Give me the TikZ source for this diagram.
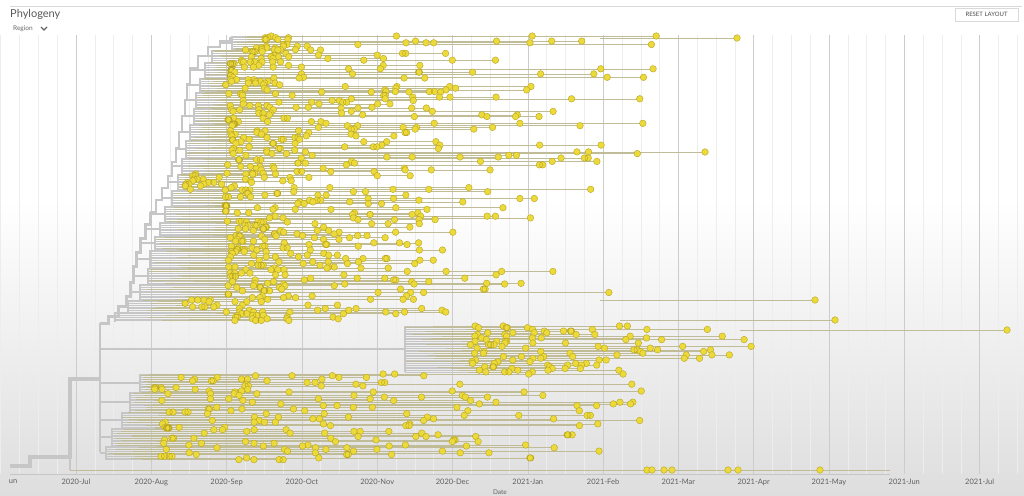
\documentclass[tikz,border=0pt]{standalone}
\usepackage{fontspec}
\setmainfont{Lato}
\usetikzlibrary{calc,positioning}
\definecolor{tipyel}{RGB}{236,218,58}
\definecolor{tipedge}{RGB}{184,164,34}
\definecolor{brgray}{RGB}{198,198,198}
\definecolor{tipline}{RGB}{192,188,152}
\definecolor{txtgray}{RGB}{95,95,95}
% clades: top y / bottom y / backbone x / clade node x / first tips x / last tip x / skew
\newcommand{\cladelist}{36/50/220/232/255/690/1.5, 50/62/198/212/240/672/1.5, 62/78/190/205/230/675/1.5,
  78/92/187/200/225/672/1.5, 92/108/185/196/225/670/1.5, 108/124/182/194/228/660/1.5,
  124/140/179/190/230/650/1.5, 140/158/176/186/232/640/1.5, 158/174/172/182/225/640/1.5,
  174/190/168/178/185/600/1.3, 190/206/162/172/225/610/1.5, 206/222/150/165/225/560/1.4,
  222/236/145/160/230/500/1.2, 236/250/140/155/230/440/1.0, 250/268/136/150/225/445/1.0,
  268/284/133/148/230/565/1.4, 284/300/130/140/228/620/1.5, 300/312/118/128/185/700/1.6,
  312/322/108/115/230/720/1.6, 326/372/100/405/470/755/0.7, 374/392/100/140/150/690/1.0,
  392/412/100/130/155/650/0.9, 412/428/100/122/160/640/0.9, 428/446/100/112/160/610/0.9,
  446/460/100/106/160/600/0.9}
\newcommand{\treepass}[1]{%
  \pgfmathsetseed{11}%
  \foreach \yt/\yb/\xbk/\xn/\xa/\xb/\sk in \cladelist {%
    \pgfmathsetmacro{\ym}{(\yt+\yb)/2}%
    \ifnum#1=0
      \draw[br] (\xbk,\ym) -- (\xn,\ym);
      \draw[br] (\xn,\yt) -- (\xn,\yb);
    \fi
    \pgfmathtruncatemacro{\nr}{(\yb-\yt)/1.7}%
    \foreach \k in {0,...,\nr} {%
      \pgfmathsetmacro{\yy}{\yt+1.7*\k}%
      \pgfmathsetmacro{\xs}{\xn+rnd*(\xa-\xn)}%
      \pgfmathsetmacro{\xt}{\xa+(\xb-\xa)*pow(rnd,\sk)}%
      \pgfmathsetmacro{\xea}{\xa+(\xt-\xa)*rnd}%
      \pgfmathsetmacro{\xeb}{\xa+(\xt-\xa)*rnd}%
      \pgfmathsetmacro{\xec}{\xa+(\xt-\xa)*rnd}%
      \ifnum#1=0
        \draw[twig] (\xn,\yy) -- (\xs,\yy);
        \draw[tipln] (\xs,\yy) -- (\xt,\yy);
      \else
        \filldraw[tipdot] (\xt,\yy) circle (3.3) (\xea,\yy) circle (3.3)
          (\xeb,\yy) circle (3.3) (\xec,\yy) circle (3.3);
      \fi
    }%
  }%
}
\begin{document}
\begin{tikzpicture}[x=1pt,y=-1pt,
  br/.style={draw=brgray,line width=1.4pt},
  trunk/.style={draw=brgray,line width=4.5pt},
  twig/.style={draw=brgray,line width=0.6pt},
  tipln/.style={draw=tipline,line width=0.6pt},
  tipdot/.style={fill=tipyel,draw=tipedge,line width=0.4pt},
  mon/.style={font=\fontsize{7.5}{8}\selectfont,text=txtgray}]
\useasboundingbox (0,0) rectangle (1024,495);
% background and grid
\fill[white] (0,0) rectangle (1024,200);
\shade[top color=white,bottom color=black!13] (0,200) rectangle (1024,495);
\foreach \k in {0,...,55}
  \draw[black!7,line width=0.5pt] ({0.7+18.825*\k},35) -- ({0.7+18.825*\k},474);
\foreach \k in {1,...,13}
  \draw[black!20,line width=0.6pt] ({0.7+75.3*\k},35) -- ({0.7+75.3*\k},474);

% header
\draw[black!15,line width=0.6pt] (10,6) -- (1022,6);
\node[anchor=west,font=\fontsize{11}{12}\selectfont,text=black!65,inner sep=0] (title) at (10,14) {Phylogeny};
\node[anchor=west,font=\fontsize{6.5}{7}\selectfont,text=black!60,inner sep=0] (region) at (13,28.5) {Region};
\draw[black!60,line width=1.2pt] (41,27) -- (44,30) -- (47,27);
\node[draw=black!15,line width=0.5pt,font=\fontsize{6}{7}\selectfont,text=black!70,
  minimum height=13pt,minimum width=63pt,inner sep=0] (reset) at (986.5,14.5) {RESET LAYOUT};

% trunk
\draw[trunk] (10,466) -- (30,466) -- (30,457) -- (70,457) -- (70,379) -- (100,379);
\draw[br,line width=2.6pt] (100,452) -- (100,323);
\draw[br,line width=3pt] (100,323) -| (108,316) -| (118,306) -| (126,296) -| (130,282)
  -| (133,266) -| (136,252) -| (140,238) -| (145,224) -| (150,212);
\draw[br,line width=2.2pt] (150,212) -| (156,200)
  -| (162,188) -| (168,176) -| (172,162) -| (176,148) -| (179,132) -| (182,116)
  -| (185,100) -| (187,84) -| (190,68) -| (198,56) -| (208,47) -| (220,41) -| (230,37);
\draw[br] (70,457) -- (70,470);
\draw[tipln] (70,470) -- (890,470);
\draw[twig] (10,474) -- (890,474);

% branches, then tips
\treepass{0}
\draw[tipln] (600,38) -- (737,38);
\draw[tipln] (560,152) -- (705,152);
\draw[tipln] (600,300) -- (815,300);
\draw[tipln] (620,320) -- (835,320);
\draw[tipln] (740,330) -- (1007,330);
\treepass{1}
\foreach \x/\y in {737/38, 705/152, 815/300, 835/320, 1007/330, 647/470, 652/470,
  664/470, 672/470, 728/470, 738/470, 820/470}
  \filldraw[tipdot] (\x,\y) circle (3.3);

% axis
\node[mon] (m0) at (13,482) {un};
\foreach \lab [count=\k] in {2020-Jul,2020-Aug,2020-Sep,2020-Oct,2020-Nov,2020-Dec,
  2021-Jan,2021-Feb,2021-Mar,2021-Apr,2021-May,2021-Jun,2021-Jul}
  \node[mon] (m\k) at ({0.7+75.3*\k},482) {\lab};
\node[font=\fontsize{6.5}{7}\selectfont,text=txtgray] (datelbl) at (500,492) {Date};
\end{tikzpicture}
\end{document}
